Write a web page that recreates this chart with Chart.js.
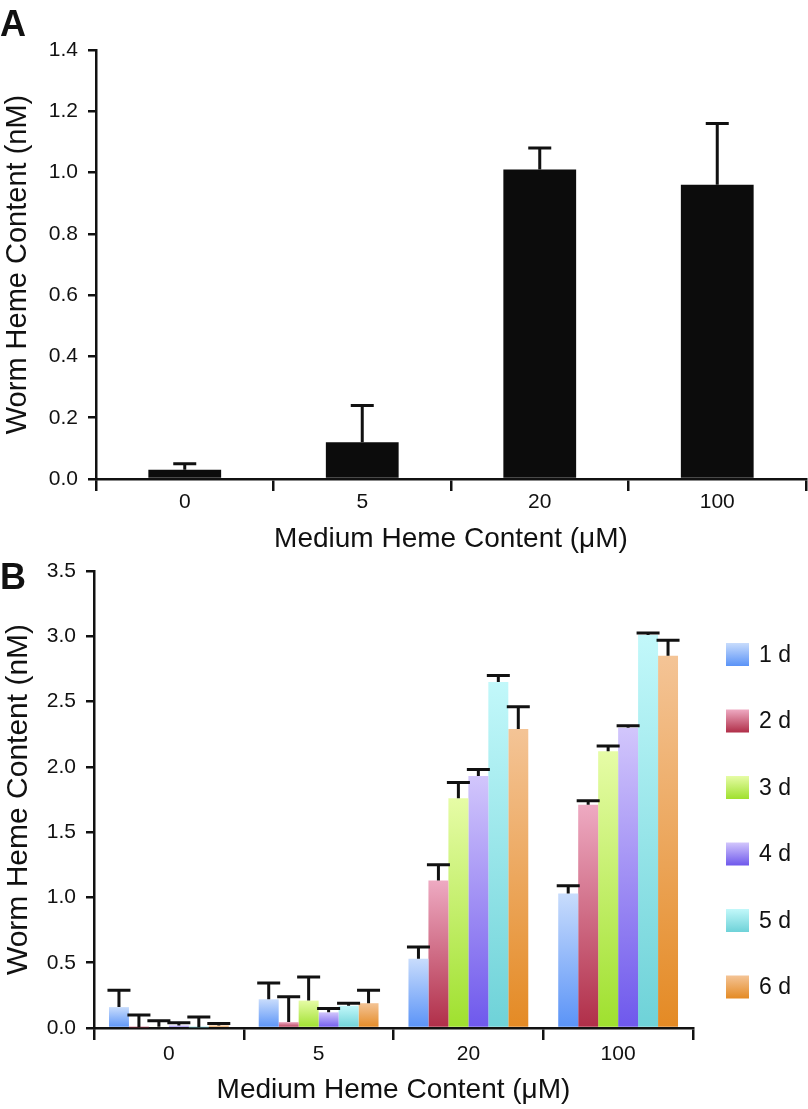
<!DOCTYPE html>
<html>
<head>
<title>Worm Heme Content</title>
<script src="https://cdn.jsdelivr.net/npm/chart.js"></script>
<style>
  body { margin: 0; background: #fff; }
  #wrap { position: relative; width: 808px; height: 1109px; }
  canvas { position: absolute; left: 0; }
  .tag { position: absolute; left: 0; font: bold 36px 'Liberation Sans', Arial, sans-serif; line-height: 1; color: #111; }
</style>
</head>
<body>
<div id="wrap">
  <canvas id="chartA" width="808" height="560" style="top:0"></canvas>
  <canvas id="chartB" width="808" height="569" style="top:540px"></canvas>
  <div class="tag" style="top:6px">A</div>
  <div class="tag" style="top:559px">B</div>
</div>

<script>
const doses = ['0', '5', '20', '100'];

// panel A
const wormHeme = [0.03, 0.12, 1.01, 0.96];
const wormHemeSd = [0.02, 0.12, 0.07, 0.20];

// panel B, one array per day (values at 0, 5, 20, 100 uM)
const dayLabels = ['1 d', '2 d', '3 d', '4 d', '5 d', '6 d'];
const day1 = [0.16, 0.22, 0.53, 1.03];
const day2 = [0.005, 0.045, 1.13, 1.71];
const day3 = [0.01, 0.21, 1.76, 2.12];
const day4 = [0.02, 0.12, 1.93, 2.30];
const day5 = [0.005, 0.17, 2.65, 3.01];
const day6 = [0.02, 0.19, 2.29, 2.85];
const day1Sd = [0.13, 0.125, 0.09, 0.06];
const day2Sd = [0.095, 0.195, 0.12, 0.03];
const day3Sd = [0.045, 0.18, 0.12, 0.04];
const day4Sd = [0.02, 0.03, 0.05, 0.015];
const day5Sd = [0.08, 0.02, 0.05, 0.015];
const day6Sd = [0.015, 0.10, 0.17, 0.12];

const lightColors = ['#c8dcfc', '#eeaac2', '#e6fca6', '#d2c6fc', '#c2f8fa', '#f4c496'];
const darkColors = ['#5a93f7', '#b02e48', '#9fe02e', '#6e58ec', '#6ed2d8', '#e48a24'];

Chart.defaults.font.family = "'Liberation Sans', Arial, sans-serif";
Chart.defaults.color = '#111';

// bar fill: light at the top, saturated at the base
function barGradient(c, light, dark) {
  const chart = c.chart;
  const y = chart.scales.y;
  if (!chart.chartArea || !y || c.raw == null) return dark;
  const y0 = y.getPixelForValue(0);
  const y1 = y.getPixelForValue(c.raw);
  if (Math.abs(y0 - y1) < 1) return dark;
  const g = chart.ctx.createLinearGradient(0, y1, 0, y0);
  g.addColorStop(0, light);
  g.addColorStop(1, dark);
  return g;
}

const errorBars = {
  id: 'errorBars',
  afterDatasetsDraw(chart, args, opts) {
    const ctx = chart.ctx;
    const y = chart.scales.y;
    ctx.save();
    ctx.strokeStyle = '#111';
    ctx.lineWidth = opts.width;
    chart.data.datasets.forEach((ds, i) => {
      const meta = chart.getDatasetMeta(i);
      meta.data.forEach((bar, j) => {
        const top = y.getPixelForValue(ds.data[j] + ds.errors[j]);
        ctx.beginPath();
        ctx.moveTo(bar.x, bar.y);
        ctx.lineTo(bar.x, top);
        ctx.moveTo(bar.x - opts.cap / 2, top);
        ctx.lineTo(bar.x + opts.cap / 2, top);
        ctx.stroke();
      });
    });
    ctx.restore();
  }
};

const dayLegend = {
  id: 'dayLegend',
  afterDraw(chart, args, opts) {
    if (!opts.show) return;
    const ctx = chart.ctx;
    ctx.save();
    ctx.font = "23px 'Liberation Sans', Arial, sans-serif";
    ctx.textBaseline = 'middle';
    chart.data.datasets.forEach((ds, i) => {
      const top = opts.y + i * opts.step;
      const g = ctx.createLinearGradient(0, top, 0, top + opts.box);
      g.addColorStop(0, lightColors[i]);
      g.addColorStop(1, darkColors[i]);
      ctx.fillStyle = g;
      ctx.fillRect(opts.x, top, opts.box, opts.box);
      ctx.fillStyle = '#111';
      ctx.fillText(ds.label, opts.x + opts.box + 10, top + opts.box / 2 + 1);
    });
    ctx.restore();
  }
};

function yAxis(max, width, titleSize) {
  return {
    min: 0, max: max,
    ticks: { stepSize: max > 2 ? 0.5 : 0.2, padding: 10, font: { size: 21 }, color: '#111',
      callback: v => v.toFixed(1) },
    grid: { drawOnChartArea: false, drawTicks: true, tickLength: 8, color: '#111', lineWidth: 2.5 },
    border: { color: '#111', width: 2.5 },
    title: { display: true, text: 'Worm Heme Content (nM)', font: { size: titleSize }, color: '#111',
      padding: { top: 1, bottom: 0 } },
    afterFit: s => { s.width = width; }
  };
}

function xAxis(labelPad, titlePad) {
  return {
    offset: true,
    ticks: { padding: labelPad, font: { size: 21 }, color: '#111' },
    grid: { offset: true, drawOnChartArea: false, drawTicks: true, tickLength: 12, color: '#111', lineWidth: 2.5 },
    border: { color: '#111', width: 2.5 },
    title: { display: true, text: 'Medium Heme Content (μM)', font: { size: 28 }, color: '#111',
      padding: { top: 0, bottom: titlePad } },
    afterFit: s => { s.height = 81; }
  };
}

new Chart(document.getElementById('chartA'), {
  type: 'bar',
  data: {
    labels: doses,
    datasets: [{
      label: 'Worm heme',
      data: wormHeme,
      errors: wormHemeSd,
      backgroundColor: '#0c0c0c',
      borderWidth: 0,
      barPercentage: 0.41,
      categoryPercentage: 1
    }]
  },
  options: {
    responsive: false,
    animation: false,
    layout: { padding: { top: 50, right: 2, left: 0, bottom: 0 } },
    plugins: {
      legend: { display: false },
      tooltip: { enabled: false },
      errorBars: { cap: 23, width: 3 },
      dayLegend: { show: false }
    },
    scales: { x: xAxis(-1, 4), y: yAxis(1.4, 96, 29) }
  },
  plugins: [errorBars, dayLegend]
});

const dayData = [day1, day2, day3, day4, day5, day6];
const daySd = [day1Sd, day2Sd, day3Sd, day4Sd, day5Sd, day6Sd];

new Chart(document.getElementById('chartB'), {
  type: 'bar',
  data: {
    labels: doses,
    datasets: dayLabels.map((lab, i) => ({
      label: lab,
      data: dayData[i],
      errors: daySd[i],
      backgroundColor: c => barGradient(c, lightColors[i], darkColors[i]),
      borderWidth: 0,
      barPercentage: 1,
      categoryPercentage: 0.8
    }))
  },
  options: {
    responsive: false,
    animation: false,
    layout: { padding: { top: 31, right: 115, left: 0, bottom: 0 } },
    plugins: {
      legend: { display: false },
      tooltip: { enabled: false },
      errorBars: { cap: 23, width: 3 },
      dayLegend: { show: true, x: 726, y: 103, step: 66.5, box: 23 }
    },
    scales: { x: xAxis(2, 2), y: yAxis(3.5, 94, 30) }
  },
  plugins: [errorBars, dayLegend]
});
</script>
</body>
</html>
